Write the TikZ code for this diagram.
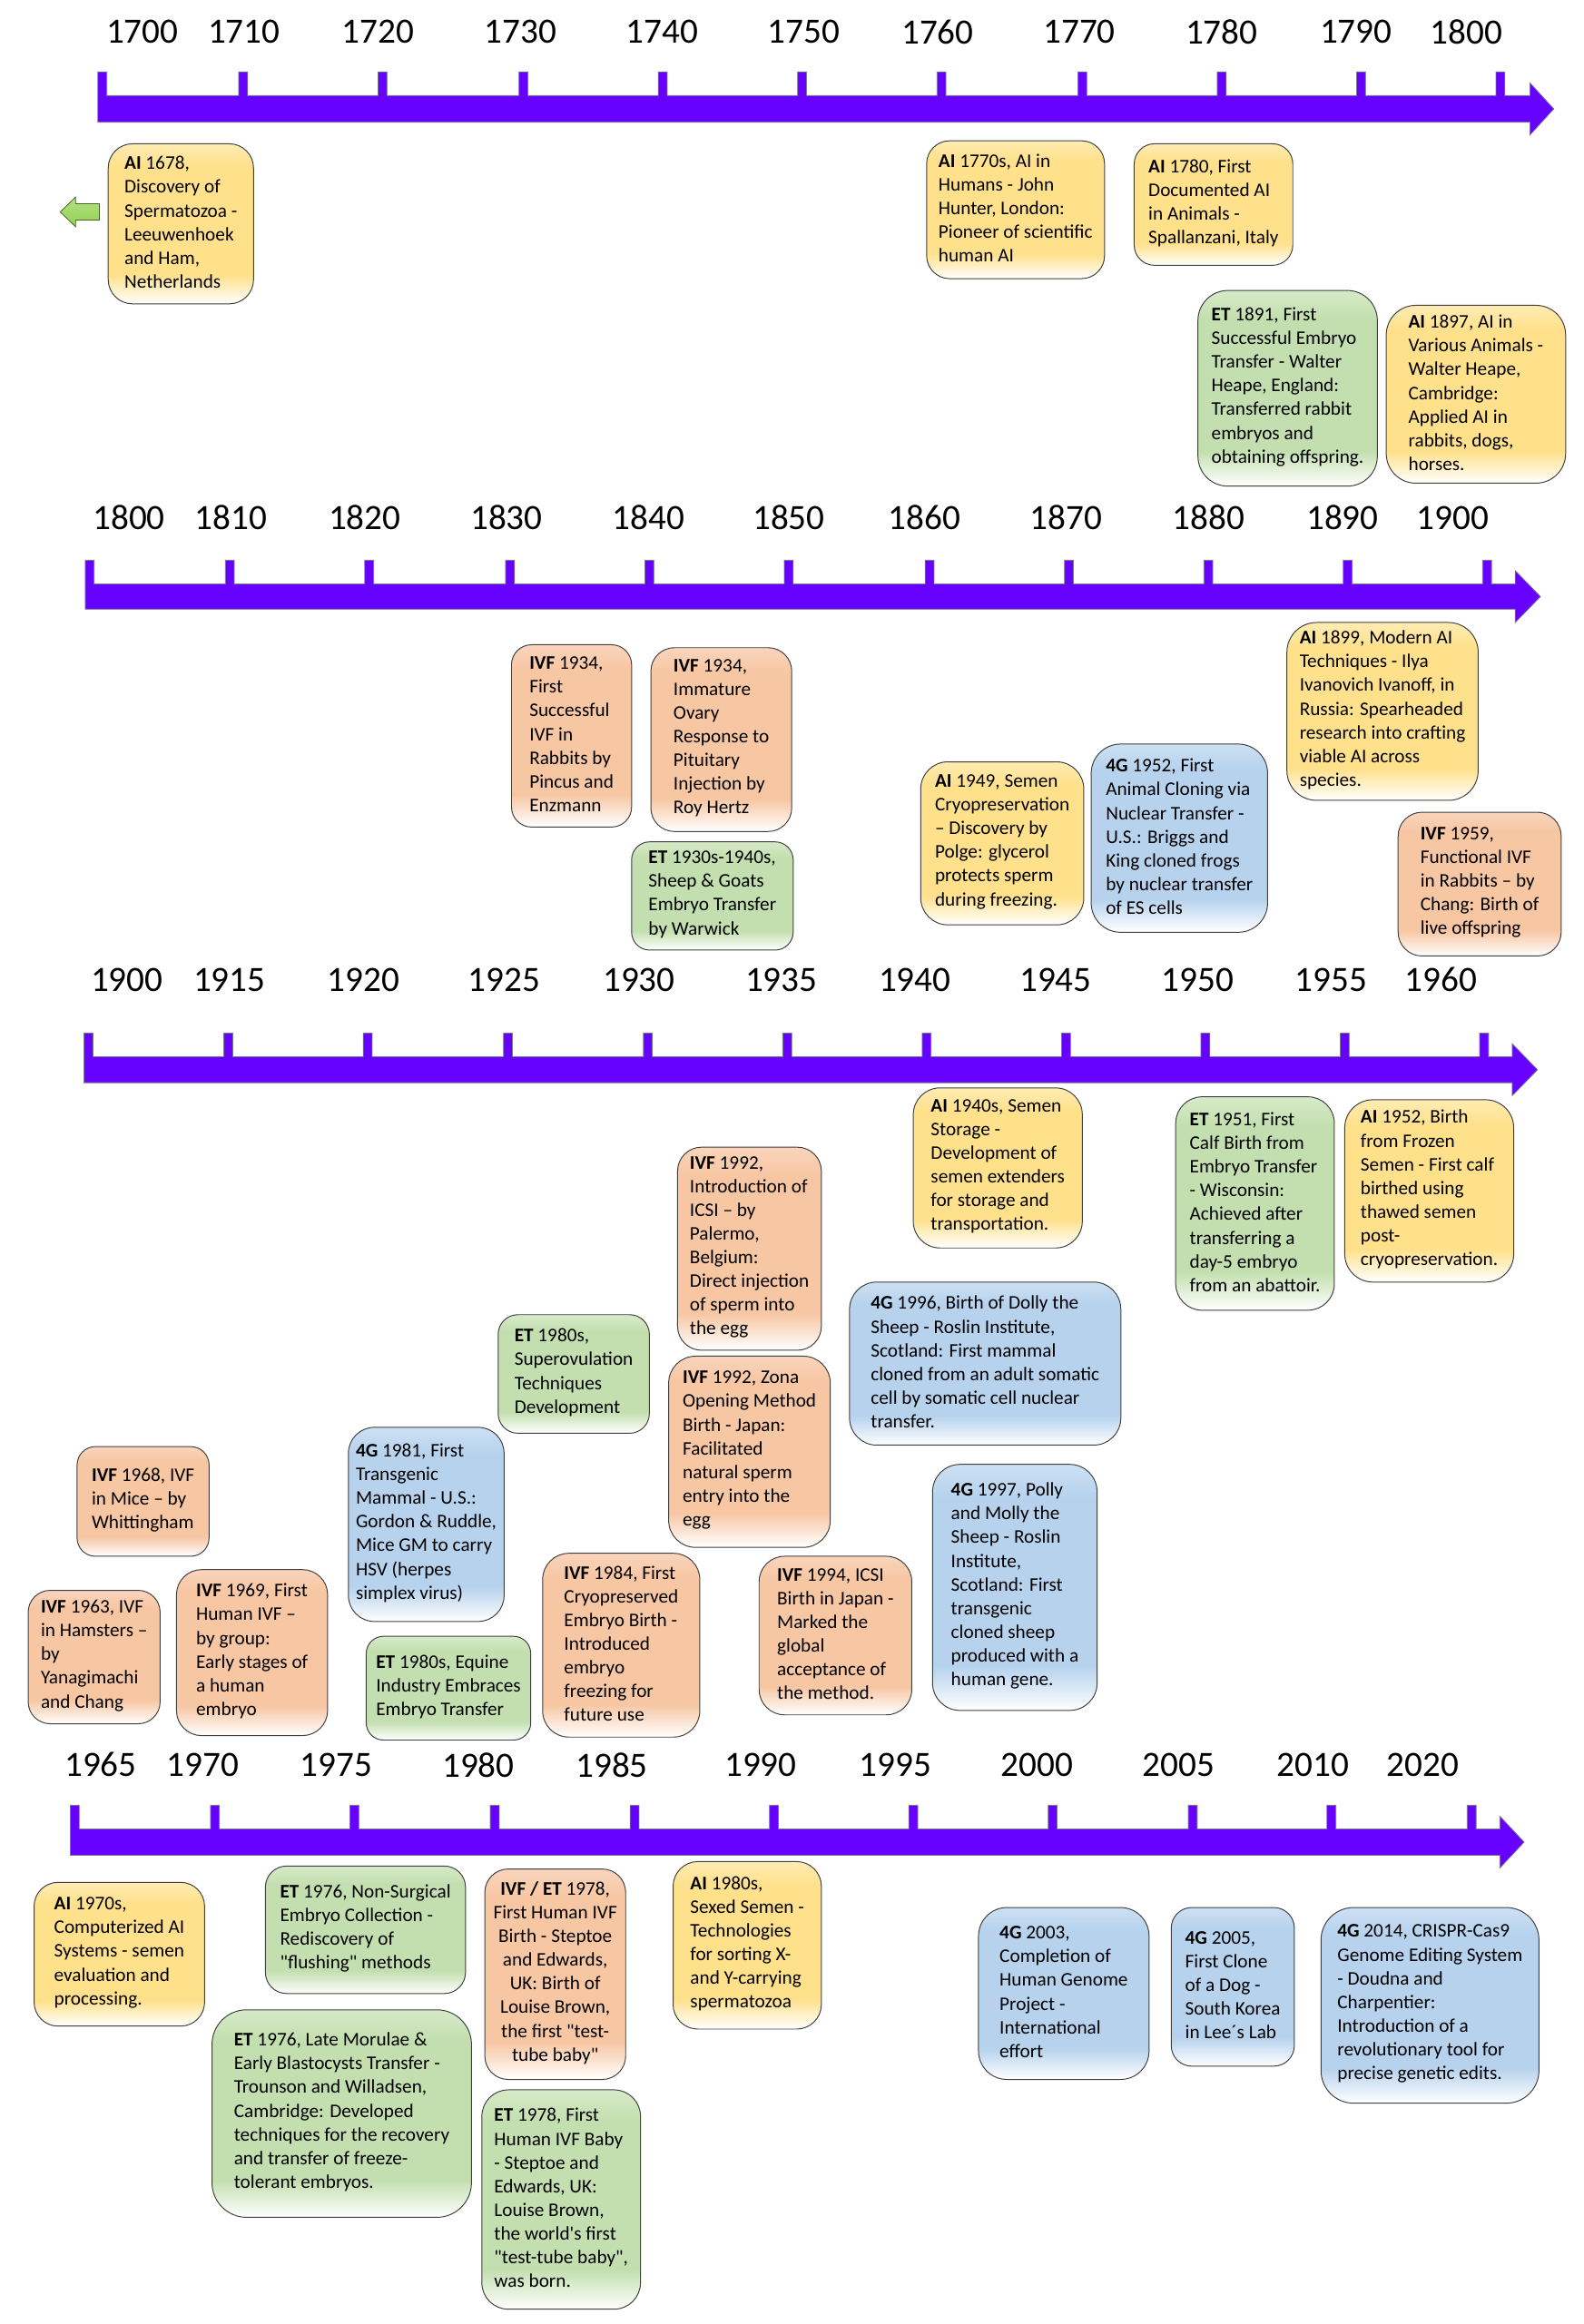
\documentclass[tikz,border=0pt]{standalone}
\usepackage{fontspec}
\setmainfont{Carlito}[Ligatures=TeXOff]
\definecolor{barC}{RGB}{102,0,255}
\definecolor{barD}{RGB}{120,120,140}
\definecolor{boxD}{RGB}{64,64,64}
\definecolor{aiC}{RGB}{255,225,140}
\definecolor{aiL}{RGB}{255,236,178}
\definecolor{ivfC}{RGB}{247,198,162}
\definecolor{ivfL}{RGB}{249,212,188}
\definecolor{etC}{RGB}{195,223,175}
\definecolor{etL}{RGB}{214,234,200}
\definecolor{ggC}{RGB}{182,210,237}
\definecolor{ggL}{RGB}{204,224,243}
\definecolor{arrC}{RGB}{146,208,80}
\definecolor{arrL}{RGB}{180,225,130}
\definecolor{arrD}{RGB}{70,100,40}
\pgfdeclareverticalshading{aishade}{100bp}{color(0bp)=(white); color(25bp)=(white); color(34bp)=(aiC); color(68bp)=(aiC); color(75bp)=(aiL); color(100bp)=(aiL)}
\pgfdeclareverticalshading{ivfshade}{100bp}{color(0bp)=(white); color(25bp)=(white); color(34bp)=(ivfC); color(68bp)=(ivfC); color(75bp)=(ivfL); color(100bp)=(ivfL)}
\pgfdeclareverticalshading{etshade}{100bp}{color(0bp)=(white); color(25bp)=(white); color(34bp)=(etC); color(68bp)=(etC); color(75bp)=(etL); color(100bp)=(etL)}
\pgfdeclareverticalshading{ggshade}{100bp}{color(0bp)=(white); color(25bp)=(white); color(34bp)=(ggC); color(68bp)=(ggC); color(75bp)=(ggL); color(100bp)=(ggL)}
\tikzset{
  evbox/.style={draw=boxD, line width=0.6pt, inner sep=0pt},
  evtext/.style={font=\fontsize{13}{16}\selectfont, align=left, inner sep=0pt, text=black},
  year/.style={font=\fontsize{24}{28}\selectfont, inner sep=0pt, text=black},
  tlbar/.style={fill=barC, draw=barD, line width=0.5pt, line join=miter}
}
% event box: [text opts]{name}{shading}{x}{y}{w}{h}{text}
\newcommand\ev[8][]{%
  \pgfmathsetmacro\evr{0.1667*min(#6,#7)}%
  \node[evbox, shading=#3, rounded corners=\evr pt, minimum width=#6pt, minimum height=#7pt] (#2) at ({#4+#6/2},{#5+#7/2}) {};%
  \node[evtext, #1] (#2-t) at ([yshift=1pt]#2.center) {#8};%
}
% timeline: {xleft}{ticktop}{bartop}{barbot}{headbase}{tip}{headhalf}{ticks}
\newcommand\tline[8]{%
  \pgfmathsetmacro\tlmid{(#3+#4)/2}%
  \draw[tlbar] (#1,#4) -- (#1,#2) -- (#1+6,#2) -- (#1+6,#3)
    \foreach \t in {#8} { -- (\t-3,#3) -- (\t-3,#2) -- (\t+3,#2) -- (\t+3,#3) }
    -- (#5,#3) -- (#5,\tlmid-#7) -- (#6,\tlmid) -- (#5,\tlmid+#7) -- (#5,#4) -- cycle;%
}
\begin{document}
\begin{tikzpicture}[x=1pt,y=-1pt]
\useasboundingbox (0,0) rectangle (1068,1568);
\fill[white] (0,0) rectangle (1068,1568);

% ---------- timelines ----------
\tline{66}{48.5}{64.5}{82.5}{1032}{1048}{17.5}{164,258,353,447,541,635,730,824,918,1012}
\tline{57.5}{378}{394}{411}{1022}{1039}{17.5}{155,249,344,438,532,627,721,815,909,1003}
\tline{56.7}{697}{713}{730.5}{1020}{1037}{17.5}{154,248,342.6,437,531,625,719,813,907,1001}
\tline{47.4}{1218}{1234}{1251.7}{1011.6}{1028}{17.5}{145,239,333.7,428,522,616,710,804.5,898,992.6}

\foreach \yr/\xx in {1700/96,1710/164.6,1720/255,1730/351,1740/446.5,1750/542,1760/632.4,1770/728,1780/824,1790/914.6,1800/989}
  \node[year] (ya\yr) at (\xx,21.5) {\yr};
\foreach \yr/\xx in {1800/87,1810/155.7,1820/246,1830/341.6,1840/437.4,1850/532,1860/623.5,1870/719,1880/815,1890/905.5,1900/980}
  \node[year] (yb\yr) at (\xx,349.4) {\yr};
\foreach \yr/\xx in {1900/85.6,1915/154.8,1920/245,1925/340,1930/431,1935/527,1940/617,1945/712,1950/808,1955/898,1960/972}
  \node[year] (yc\yr) at (\xx,661) {\yr};
\foreach \yr/\xx in {1965/67.9,1970/136.8,1975/226.8,1980/322.6,1985/412.7,1990/513,1995/603.8,2000/699.6,2005/795,2010/885.6,2020/959.5}
  \node[year] (yd\yr) at (\xx,1190.7) {\yr};

% green left arrow
\draw[draw=arrD, line width=0.5pt, top color=arrL, bottom color=arrC]
  (40.6,143) -- (51,133) -- (51,137.5) -- (67,137.5) -- (67,148.5) -- (51,148.5) -- (51,153) -- cycle;

% ---------- row 1 ----------
\ev{e1}{aishade}{73}{97}{98}{108}{\textbf{AI} 1678,\\Discovery of\\Spermatozoa -\\Leeuwenhoek\\and Ham,\\Netherlands}
\ev{e2}{aishade}{625}{95}{120}{93}{\textbf{AI} 1770s, AI in\\Humans - John\\Hunter, London:\\Pioneer of scientific\\human AI}
\ev{e3}{aishade}{765}{97}{107}{82}{\textbf{AI} 1780, First\\Documented AI\\in Animals -\\Spallanzani, Italy}
\ev{e4}{etshade}{808}{196}{121}{132}{\textbf{ET} 1891, First\\Successful Embryo\\Transfer - Walter\\Heape, England:\\Transferred rabbit\\embryos and\\obtaining offspring.}
\ev{e5}{aishade}{935}{206}{121}{120}{\textbf{AI} 1897, AI in\\Various Animals -\\Walter Heape,\\Cambridge:\\Applied AI in\\rabbits, dogs,\\horses.}

% ---------- row 2 ----------
\ev{e6}{ivfshade}{345}{435}{81}{123}{\textbf{IVF} 1934,\\First\\Successful\\IVF in\\Rabbits by\\Pincus and\\Enzmann}
\ev{e7}{ivfshade}{439}{437}{95}{124}{\textbf{IVF} 1934,\\Immature\\Ovary\\Response to\\Pituitary\\Injection by\\Roy Hertz}
\ev{e8}{etshade}{426}{568}{109}{73}{\textbf{ET} 1930s-1940s,\\Sheep \& Goats\\Embryo Transfer\\by Warwick}
\ev{e9}{aishade}{621}{514}{110}{110}{\textbf{AI} 1949, Semen\\Cryopreservation\\– Discovery by\\Polge: glycerol\\protects sperm\\during freezing.}
\ev{e10}{ggshade}{736}{502}{119}{127}{\textbf{4G} 1952, First\\Animal Cloning via\\Nuclear Transfer -\\U.S.: Briggs and\\King cloned frogs\\by nuclear transfer\\of ES cells}
\ev{e11}{aishade}{868}{420}{129}{120}{\textbf{AI} 1899, Modern AI\\Techniques - Ilya\\Ivanovich Ivanoff, in\\Russia: Spearheaded\\research into crafting\\viable AI across\\species.}
\ev{e12}{ivfshade}{943}{548}{110}{97}{\textbf{IVF} 1959,\\Functional IVF\\in Rabbits – by\\Chang: Birth of\\live offspring}

% ---------- row 3 ----------
\ev{e13}{aishade}{616}{734}{114}{108}{\textbf{AI} 1940s, Semen\\Storage -\\Development of\\semen extenders\\for storage and\\transportation.}
\ev{e14}{etshade}{793}{740}{107}{144}{\textbf{ET} 1951, First\\Calf Birth from\\Embryo Transfer\\- Wisconsin:\\Achieved after\\transferring a\\day-5 embryo\\from an abattoir.}
\ev{e15}{aishade}{907}{742}{114}{123}{\textbf{AI} 1952, Birth\\from Frozen\\Semen - First calf\\birthed using\\thawed semen\\post-\\cryopreservation.}
\ev{e16}{ivfshade}{457}{774}{97}{137}{\textbf{IVF} 1992,\\Introduction of\\ICSI – by\\Palermo,\\Belgium:\\Direct injection\\of sperm into\\the egg}
\ev{e17}{etshade}{336}{887}{102}{80}{\textbf{ET} 1980s,\\Superovulation\\Techniques\\Development}
\ev{e18}{ivfshade}{451}{915}{109}{129}{\textbf{IVF} 1992, Zona\\Opening Method\\Birth - Japan:\\Facilitated\\natural sperm\\entry into the\\egg}
\ev{e19}{ggshade}{573}{865}{183}{110}{\textbf{4G} 1996, Birth of Dolly the\\Sheep - Roslin Institute,\\Scotland: First mammal\\cloned from an adult somatic\\cell by somatic cell nuclear\\transfer.}
\ev{e20}{ggshade}{629}{988}{111}{166}{\textbf{4G} 1997, Polly\\and Molly the\\Sheep - Roslin\\Institute,\\Scotland: First\\transgenic\\cloned sheep\\produced with a\\human gene.}
\ev{e21}{ivfshade}{512}{1050}{103}{107}{\textbf{IVF} 1994, ICSI\\Birth in Japan -\\Marked the\\global\\acceptance of\\the method.}
\ev{e22}{ivfshade}{52}{976}{89}{74}{\textbf{IVF} 1968, IVF\\in Mice – by\\Whittingham}
\ev{e23}{ggshade}{235}{963}{105}{131}{\textbf{4G} 1981, First\\Transgenic\\Mammal - U.S.:\\Gordon \& Ruddle,\\Mice GM to carry\\HSV (herpes\\simplex virus)}
\ev{e24}{ivfshade}{19}{1073}{89}{90}{\textbf{IVF} 1963, IVF\\in Hamsters –\\by\\Yanagimachi\\and Chang}
\ev{e25}{ivfshade}{119}{1059}{102}{112}{\textbf{IVF} 1969, First\\Human IVF –\\by group:\\Early stages of\\a human\\embryo}
\ev{e26}{etshade}{247}{1104}{111}{70}{\textbf{ET} 1980s, Equine\\Industry Embraces\\Embryo Transfer}
\ev{e27}{ivfshade}{366}{1048}{106}{124}{\textbf{IVF} 1984, First\\Cryopreserved\\Embryo Birth -\\Introduced\\embryo\\freezing for\\future use}

% ---------- row 4 ----------
\ev{e28}{aishade}{23}{1270}{115}{97}{\textbf{AI} 1970s,\\Computerized AI\\Systems - semen\\evaluation and\\processing.}
\ev{e29}{etshade}{179}{1259}{135}{86}{\textbf{ET} 1976, Non-Surgical\\Embryo Collection -\\Rediscovery of\\"flushing" methods}
\ev[align=center]{e30}{ivfshade}{327}{1261}{95}{142}{\textbf{IVF / ET} 1978,\\First Human IVF\\Birth - Steptoe\\and Edwards,\\UK: Birth of\\Louise Brown,\\the first "test-\\tube baby"}
\ev{e31}{aishade}{454}{1256}{100}{113}{\textbf{AI} 1980s,\\Sexed Semen -\\Technologies\\for sorting X-\\and Y-carrying\\spermatozoa}
\ev{e32}{etshade}{143}{1356}{175}{140}{\textbf{ET} 1976, Late Morulae \&\\Early Blastocysts Transfer -\\Trounson and Willadsen,\\Cambridge: Developed\\techniques for the recovery\\and transfer of freeze-\\tolerant embryos.}
\ev{e33}{etshade}{325}{1410}{107}{148}{\textbf{ET} 1978, First\\Human IVF Baby\\- Steptoe and\\Edwards, UK:\\Louise Brown,\\the world's first\\"test-tube baby",\\was born.}
\ev{e34}{ggshade}{660}{1287}{115}{116}{\textbf{4G} 2003,\\Completion of\\Human Genome\\Project -\\International\\effort}
\ev{e35}{ggshade}{790}{1287}{83}{107}{\textbf{4G} 2005,\\First Clone\\of a Dog -\\South Korea\\in Lee´s Lab}
\ev{e36}{ggshade}{891}{1287}{147}{132}{\textbf{4G} 2014, CRISPR-Cas9\\Genome Editing System\\- Doudna and\\Charpentier:\\Introduction of a\\revolutionary tool for\\precise genetic edits.}
\end{tikzpicture}
\end{document}
